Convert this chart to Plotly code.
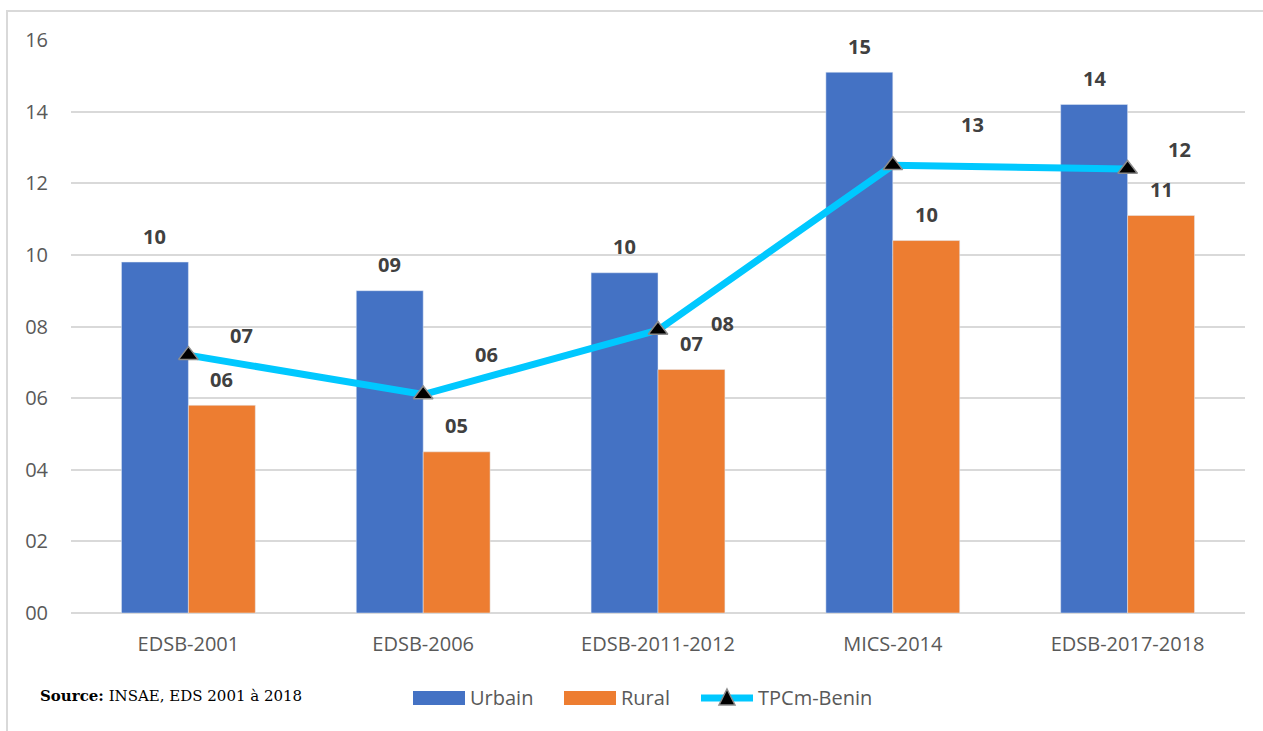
import plotly.graph_objects as go

# Survey rounds and indicator values
surveys = ["EDSB-2001", "EDSB-2006", "EDSB-2011-2012", "MICS-2014", "EDSB-2017-2018"]
urbain = [9.8, 9.0, 9.5, 15.1, 14.2]
rural = [5.8, 4.5, 6.8, 10.4, 11.1]
tpcm_benin = [7.2, 6.1, 7.9, 12.5, 12.4]
y_ticks = [0, 2, 4, 6, 8, 10, 12, 14, 16]

# Pixel offsets of the national-rate labels relative to their markers
line_label_shift = [(53, 20), (63, 40), (64, 7), (80, 41), (52, 19)]

BLUE = "#4472C4"
ORANGE = "#ED7D31"
CYAN = "#00C8FF"
GRID = "#D9D9D9"
TICK_COLOR = "#595959"
LABEL_COLOR = "#404040"
FONT = "Open Sans"

W, H = 1263, 731
ML, MR, MT, MB = 71, 18, 40, 118
PW, PH = W - ML - MR, H - MT - MB


def px(x):
    """Horizontal pixel -> paper coordinate."""
    return (x - ML) / PW


def py(y):
    """Vertical pixel (from top) -> paper coordinate."""
    return (H - MB - y) / PH


def two_digits(v):
    return f"{int(v + 0.5):02d}"


fig = go.Figure()
fig.add_trace(go.Bar(name="Urbain", x=surveys, y=urbain, marker_color=BLUE))
fig.add_trace(go.Bar(name="Rural", x=surveys, y=rural, marker_color=ORANGE))
fig.add_trace(go.Scatter(
    name="TPCm-Benin", x=surveys, y=tpcm_benin, mode="lines+markers",
    line=dict(color=CYAN, width=7),
    marker=dict(symbol="triangle-up", size=17, color="black",
                line=dict(color="#8C8C8C", width=1.5)),
))

annotations = []
label_font = dict(family=FONT, size=20, color=LABEL_COLOR)
for cat, u, r in zip(surveys, urbain, rural):
    annotations.append(dict(x=cat, y=u, xref="x", yref="y", text=f"<b>{two_digits(u)}</b>",
                            showarrow=False, xshift=-33.5, yshift=26, font=label_font))
    annotations.append(dict(x=cat, y=r, xref="x", yref="y", text=f"<b>{two_digits(r)}</b>",
                            showarrow=False, xshift=33.5, yshift=26, font=label_font))
for cat, v, (dx, dy) in zip(surveys, tpcm_benin, line_label_shift):
    annotations.append(dict(x=cat, y=v, xref="x", yref="y", text=f"<b>{two_digits(v)}</b>",
                            showarrow=False, xshift=dx, yshift=dy, font=label_font))

# Source note
annotations.append(dict(
    x=px(38), y=py(696), xref="paper", yref="paper", xanchor="left", yanchor="middle",
    text="<b>Source:</b> INSAE, EDS 2001 à 2018", showarrow=False,
    font=dict(family="DejaVu Serif", size=15, color="black"),
))

# Legend: wide colour keys with their names
legend_font = dict(family=FONT, size=20, color=TICK_COLOR)
for x_txt, name in [(468, "Urbain"), (619, "Rural"), (756, "TPCm-Benin")]:
    annotations.append(dict(x=px(x_txt), y=py(697), xref="paper", yref="paper",
                            xanchor="left", yanchor="middle", text=name,
                            showarrow=False, font=legend_font))

shapes = [
    # light frame around the whole chart
    dict(type="rect", xref="paper", yref="paper",
         x0=px(7), x1=px(1275), y0=py(745), y1=py(11),
         line=dict(color=GRID, width=2), fillcolor="rgba(0,0,0,0)", layer="below"),
    # legend keys
    dict(type="rect", xref="paper", yref="paper", x0=px(413), x1=px(465),
         y0=py(705), y1=py(691), line=dict(width=0), fillcolor=BLUE),
    dict(type="rect", xref="paper", yref="paper", x0=px(564), x1=px(616),
         y0=py(705), y1=py(691), line=dict(width=0), fillcolor=ORANGE),
    dict(type="line", xref="paper", yref="paper", x0=px(701), x1=px(753),
         y0=py(698), y1=py(698), line=dict(color=CYAN, width=7)),
    dict(type="path", xref="paper", yref="paper",
         path=f"M {px(727)} {py(689)} L {px(735)} {py(705)} L {px(719)} {py(705)} Z",
         fillcolor="black", line=dict(color="#8C8C8C", width=1.5)),
]

fig.update_layout(
    width=W, height=H,
    margin=dict(l=ML, r=MR, t=MT, b=MB),
    paper_bgcolor="white", plot_bgcolor="white",
    barmode="group", bargap=0.43, bargroupgap=0,
    font=dict(family=FONT, size=20, color=TICK_COLOR),
    showlegend=False,
    annotations=annotations,
    shapes=shapes,
)
fig.update_xaxes(showgrid=False, showline=False, ticks="", ticklabelstandoff=17,
                 tickfont=dict(family=FONT, size=20, color=TICK_COLOR))
fig.update_yaxes(range=[0, 16], tickvals=y_ticks, ticktext=[f"{t:02d}" for t in y_ticks],
                 showgrid=True, gridcolor=GRID, gridwidth=1.5, zeroline=True,
                 zerolinecolor=GRID, zerolinewidth=1.5, ticks="", ticklabelstandoff=22,
                 tickfont=dict(family=FONT, size=20, color=TICK_COLOR))

fig.write_html("out.html")
